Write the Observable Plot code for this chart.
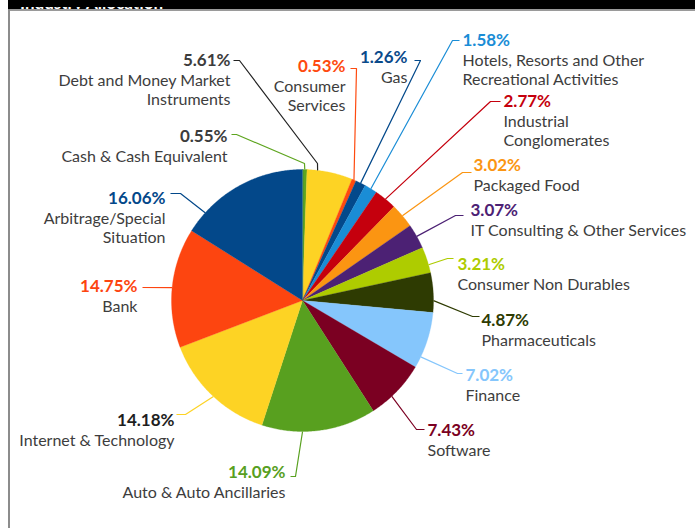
<!DOCTYPE html>
<html><head><meta charset="utf-8">
<script src="https://cdn.jsdelivr.net/npm/d3@7"></script>
<script src="https://cdn.jsdelivr.net/npm/@observablehq/plot@0.6"></script>
<style>
body{margin:0;background:#fff;width:695px;height:528px;overflow:hidden;position:relative;font-family:Lato,sans-serif}
#chart{position:absolute;left:0;top:0}
#banner{position:absolute;left:8px;top:0;width:687px;height:9px;background:#000;overflow:hidden}
#frameTop{position:absolute;left:8px;top:9px;width:687px;height:1.5px;background:#9a9a9a}
#frameLeft{position:absolute;left:8px;top:9px;width:2px;height:519px;background:#8c8c8c}
</style></head><body>
<div id="chart"></div>
<div id="banner"><svg width="687" height="9"><text x="12" y="1.5" fill="#fff" font-weight="bold" font-size="17" font-family="Lato">Industry Allocation</text></svg></div>
<div id="frameTop"></div><div id="frameLeft"></div>
<script>
// ---- data ----
const categories = [
  "Cash & Cash Equivalent",
  "Debt and Money Market\nInstruments",
  "Consumer\nServices",
  "Gas",
  "Hotels, Resorts and Other\nRecreational Activities",
  "Industrial\nConglomerates",
  "Packaged Food",
  "IT Consulting & Other Services",
  "Consumer Non Durables",
  "Pharmaceuticals",
  "Finance",
  "Software",
  "Auto & Auto Ancillaries",
  "Internet & Technology",
  "Bank",
  "Arbitrage/Special\nSituation"
];
const values = [0.55, 5.61, 0.53, 1.26, 1.58, 2.77, 3.02, 3.07, 3.21, 4.87, 7.02, 7.43, 14.09, 14.18, 14.75, 16.06];
const valueLabels = values.map(v => v.toFixed(2) + "%");

// ---- styles ----
const sliceColors = ["#5ea51f","#fdd324","#fe4a0f","#03498b","#1a8dd6","#c5000d","#fb9512","#4c2174","#aecc00","#2e3b02","#85c6fc","#7b0022","#58a01f","#fdd324","#fd4510","#03488a"];
const pctColors   = ["#3c3c3c","#3c3c3c","#fe4a0f","#0a4a8a","#1a8dd6","#c5000d","#fb9512","#4c2174","#aecc00","#2e3b02","#85c6fc","#7b0022","#58a01f","#1e1e1e","#fd4510","#03488a"];
const leaderColors= ["#5ea51f","#222222","#fe4a0f","#03498b","#1a8dd6","#c5000d","#fb9512","#4c2174","#aecc00","#2e3b02","#85c6fc","#7b0022","#58a01f","#fdd324","#fd4510","#03488a"];

// ---- layout (pixel positions of labels and leader elbows) ----
const pie = {cx: 302, cy: 300, r: 131};
const labelLayout = [
  {anchor:"end",   x:227, y:141, attach:0.5,   path:[[304,163],[236,134],[231,134]]},
  {anchor:"end",   x:230, y:65,  attach:0.23,  path:[[317,163],[239,60],[233,60]]},
  {anchor:"end",   x:345, y:71,  attach:0.5,   path:[[356,68],[350,68]]},
  {anchor:"end",   x:407, y:62,  attach:0.5,   path:[[420,60],[414,60]]},
  {anchor:"start", x:462, y:45,  attach:0.5,   path:[[452,40],[459,40]]},
  {anchor:"start", x:503, y:106, attach:0.5,   path:[[490,101],[500,101]]},
  {anchor:"start", x:473, y:170, attach:0.5,   path:[[462,172],[471,172]]},
  {anchor:"start", x:470, y:215, attach:0.5,   path:[[455,215],[463,215]]},
  {anchor:"start", x:457, y:269, attach:0.69,  path:[[447,258],[453,258]]},
  {anchor:"start", x:481, y:325, attach:0.7,   path:[[472,316],[479,316]]},
  {anchor:"start", x:465, y:380, attach:0.8,   path:[[457,373],[462,373]]},
  {anchor:"start", x:427, y:435, attach:0.615, path:[[416,429],[424,429]]},
  {anchor:"end",   x:285, y:477, attach:0.644, path:[[295,476],[290,476]]},
  {anchor:"end",   x:174, y:425, attach:0.486, path:[[185,414],[176,414]]},
  {anchor:"end",   x:137, y:291, attach:0.5,   path:[[142,287]]},
  {anchor:"end",   x:165, y:203, attach:0.17,  path:[[180,193],[170,193]]}
];
const nameGap = 20, nameLine = 19;

// ---- build geometry from values ----
const total = d3.sum(values);
const slicePts = [], leaderPts = [], textRows = [];
let acc = 0;
values.forEach((v, i) => {
  const a0 = acc / total * 2 * Math.PI;
  const a1 = (acc + v) / total * 2 * Math.PI;
  const n = Math.max(2, Math.ceil((a1 - a0) / (Math.PI / 360)));
  slicePts.push({i, x: pie.cx, y: pie.cy});
  for (let k = 0; k <= n; k++) {
    const a = a0 + (a1 - a0) * k / n;
    slicePts.push({i, x: pie.cx + pie.r * Math.sin(a), y: pie.cy - pie.r * Math.cos(a)});
  }
  const L = labelLayout[i];
  const aa = a0 + (a1 - a0) * L.attach;
  leaderPts.push({i, x: pie.cx + pie.r * Math.sin(aa), y: pie.cy - pie.r * Math.cos(aa)});
  L.path.forEach(p => leaderPts.push({i, x: p[0], y: p[1]}));
  textRows.push({i, kind: "pct", anchor: L.anchor, x: L.x, y: L.y, text: valueLabels[i]});
  categories[i].split("\n").forEach((line, j) => {
    textRows.push({i, kind: "name", anchor: L.anchor, x: L.x, y: L.y + nameGap + nameLine * j, text: line});
  });
  acc += v;
});

const textMark = (anchor, kind) => Plot.text(textRows.filter(d => d.anchor === anchor && d.kind === kind), {
  x: "x", y: "y", text: "text", textAnchor: anchor, lineAnchor: "bottom",
  fill: kind === "pct" ? (d => pctColors[d.i]) : "#3d3d3d",
  fontFamily: "Lato", fontSize: kind === "pct" ? 17 : 16, fontWeight: kind === "pct" ? "bold" : "normal"
});

const chart = Plot.plot({
  width: 695, height: 528, margin: 0,
  x: {domain: [0, 695], range: [0, 695], axis: null},
  y: {domain: [0, 528], range: [0, 528], axis: null},
  color: {type: "identity"},
  marks: [
    Plot.line(slicePts, {x: "x", y: "y", z: "i", fill: d => sliceColors[d.i], stroke: d => sliceColors[d.i], strokeWidth: 0.3, curve: "linear-closed"}),
    Plot.line(leaderPts, {x: "x", y: "y", z: "i", stroke: d => leaderColors[d.i], strokeWidth: 1.2, strokeLinecap: "butt"}),
    textMark("start", "pct"), textMark("end", "pct"),
    textMark("start", "name"), textMark("end", "name")
  ]
});
document.getElementById("chart").appendChild(chart);
</script>
</body></html>
